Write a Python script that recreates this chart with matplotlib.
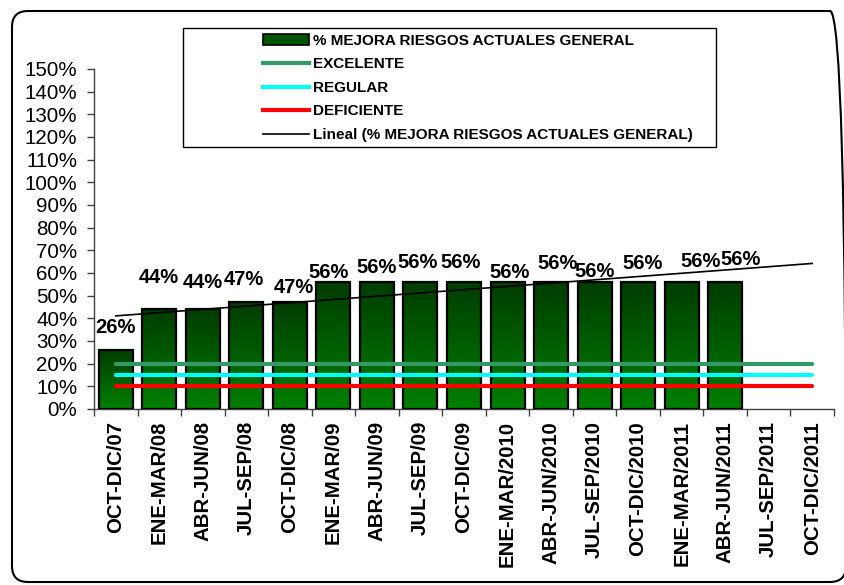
import numpy as np
import matplotlib
matplotlib.use("Agg")
import matplotlib.pyplot as plt
from matplotlib.patches import FancyBboxPatch, Rectangle
from matplotlib.lines import Line2D
from matplotlib.colors import LinearSegmentedColormap

plt.rcParams['font.family'] = ['Liberation Sans', 'DejaVu Sans']

# ---------------- data ----------------
categories = ["OCT-DIC/07", "ENE-MAR/08", "ABR-JUN/08", "JUL-SEP/08", "OCT-DIC/08",
              "ENE-MAR/09", "ABR-JUN/09", "JUL-SEP/09", "OCT-DIC/09", "ENE-MAR/2010",
              "ABR-JUN/2010", "JUL-SEP/2010", "OCT-DIC/2010", "ENE-MAR/2011",
              "ABR-JUN/2011", "JUL-SEP/2011", "OCT-DIC/2011"]
mejora = [26, 44, 44, 47, 47, 56, 56, 56, 56, 56, 56, 56, 56, 56, 56]
excelente = 20
regular = 15
deficiente = 10
yticks = list(range(0, 151, 10))

# label placement (layout only)
label_y = [36, 58, 55.7, 57.1, 53.5, 60.1, 62.3, 64.5, 64.5, 60.1, 64.1, 60.6, 64.1, 65.0, 65.9]
label_dx = [0, 0, 0, -0.05, 0.1, -0.1, 0, -0.07, -0.08, 0.04, 0.16, 0, 0.1, 0.43, 0.35]

W, H = 845, 585
fig = plt.figure(figsize=(W / 100, H / 100), dpi=100)
ax = fig.add_axes([94 / W, 1 - 409 / H, 740 / W, 340 / H])

n = len(categories)
x = np.arange(n)
bw = 0.78
bars = ax.bar(x[:len(mejora)], mejora, width=bw, facecolor='none',
              edgecolor='black', linewidth=1.6, zorder=3)
cmap = LinearSegmentedColormap.from_list('g', ['#008000', '#003c00'])
grad = np.linspace(0, 1, 256).reshape(-1, 1)
for b in bars:
    im = ax.imshow(grad, cmap=cmap, origin='lower', aspect='auto',
                   extent=(b.get_x(), b.get_x() + b.get_width(), 0, b.get_height()),
                   zorder=2)
    im.set_clip_path(b)

# reference lines
ax.plot([0, n - 1], [excelente] * 2, color='#339966', lw=3, solid_capstyle='round', zorder=4)
ax.plot([0, n - 1], [regular] * 2, color='#00ffff', lw=3, solid_capstyle='round', zorder=4)
ax.plot([0, n - 1], [deficiente] * 2, color='#ff0000', lw=3, solid_capstyle='round', zorder=4)

# linear trend
xs = np.arange(1, len(mejora) + 1)
coef = np.polyfit(xs, mejora, 1)
xt = np.array([1, n])
ax.plot(xt - 1, np.polyval(coef, xt), color='black', lw=1.2, zorder=5)

# data labels
for i, v in enumerate(mejora):
    ax.text(i + label_dx[i], label_y[i], f"{v}%", ha='center', va='center',
            fontsize=14.5, fontweight='bold', zorder=6)

ax.set_xlim(-0.5, n - 0.5)
ax.set_ylim(0, 150)
ax.set_yticks(yticks)
ax.set_yticklabels([f"{t}%" for t in yticks], fontsize=14.8)
ax.tick_params(axis='y', length=5, width=1, color='#404040', pad=7)

ax.set_xticks(np.arange(-0.5, n, 1))
ax.set_xticklabels([])
ax.tick_params(axis='x', which='major', length=5, width=1, color='#404040')
ax.set_xticks(x, minor=True)
ax.set_xticklabels(categories, minor=True, rotation=90, fontsize=14.7,
                   fontweight='bold', va='top', ha='center')
ax.tick_params(axis='x', which='minor', length=0, pad=8.5)

for s in ['top', 'right']:
    ax.spines[s].set_visible(False)
for s in ['left', 'bottom']:
    ax.spines[s].set_color('#404040')
    ax.spines[s].set_linewidth(1)

# legend
handles = [Rectangle((0, 0), 1, 1, facecolor='#005500', edgecolor='black', lw=1.2),
           Line2D([], [], color='#339966', lw=3),
           Line2D([], [], color='#00ffff', lw=3),
           Line2D([], [], color='#ff0000', lw=3),
           Line2D([], [], color='black', lw=1.2)]
labels = ['% MEJORA RIESGOS ACTUALES GENERAL', 'EXCELENTE', 'REGULAR', 'DEFICIENTE',
          'Lineal (% MEJORA RIESGOS ACTUALES GENERAL)']
leg = fig.legend(handles, labels, loc='upper left', bbox_to_anchor=(263 / W, 1 - 34 / H),
                 frameon=False, prop={'weight': 'bold', 'size': 11},
                 handlelength=3.0, handletextpad=0.3, labelspacing=0.62,
                 borderpad=0, borderaxespad=0)
fig.add_artist(Rectangle((183 / W, 1 - 147 / H), (716 - 183) / W, (147 - 28) / H,
                         transform=fig.transFigure, fill=False, edgecolor='black', lw=1))

# outer border
fig.add_artist(FancyBboxPatch((12, H - 582), 834, 571,
                              boxstyle="round,pad=0,rounding_size=16",
                              transform=None, fill=False, edgecolor='black', lw=1.5))

fig.savefig('out.png', dpi=100)
